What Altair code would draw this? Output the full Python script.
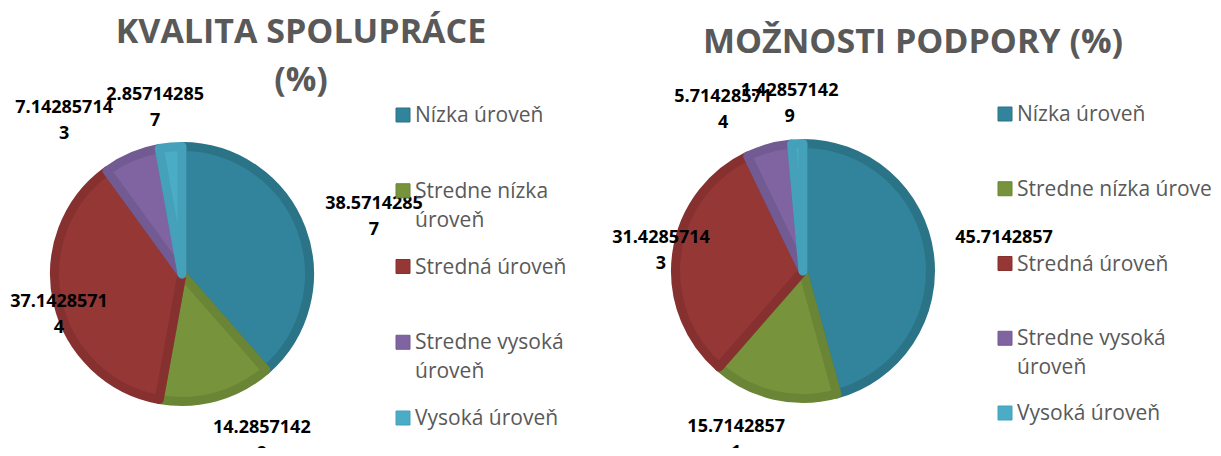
import altair as alt
import pandas as pd

# ---- data ----
categories = ["Nízka úroveň", "Stredne nízka úroveň", "Stredná úroveň",
              "Stredne vysoká úroveň", "Vysoká úroveň"]
kvalita_values = [38.57142857, 14.28571429, 37.14285714, 7.142857143, 2.857142857]
podpora_values = [45.71428571, 15.71428571, 31.42857143, 5.714285714, 1.428571429]
legend_lines_kvalita = ["Nízka úroveň", "Stredne nízka\núroveň", "Stredná úroveň",
                        "Stredne vysoká\núroveň", "Vysoká úroveň"]
legend_lines_podpora = ["Nízka úroveň", "Stredne nízka úroveň", "Stredná úroveň",
                        "Stredne vysoká\núroveň", "Vysoká úroveň"]
title_kvalita = "KVALITA SPOLUPRÁCE\n(%)"
title_podpora = "MOŽNOSTI PODPORY (%)"

fill_colors = ["#31849B", "#77933C", "#953735", "#8064A2", "#4BACC6"]
border_colors = ["#2B7386", "#6A8535", "#86302F", "#725A92", "#45A0B9"]

FONT = "Open Sans"
GREY = "#595959"


def wrap_label(v):
    s = str(v)
    return s[:10] + "\n" + s[10:]


def make_df(values, legend_lines):
    return pd.DataFrame({
        "category": categories,
        "value": values,
        "idx": list(range(len(categories))),
        "label": [wrap_label(v) for v in values],
        "legend": legend_lines,
    })


color_scale = alt.Scale(domain=categories, range=fill_colors)
stroke_scale = alt.Scale(domain=categories, range=border_colors)


def pie_layers(df, cx, cy, xmin, xmax, legend_x, legend_range, title, title_x, title_y):
    base = alt.Chart(df)
    theta = alt.Theta("value:Q", stack=True)
    order = alt.Order("idx:Q")
    arcs = base.mark_arc(radius=127.5, strokeWidth=9, strokeJoin="round").encode(
        theta=theta, order=order,
        color=alt.Color("category:N", scale=color_scale, legend=None),
        stroke=alt.Stroke("category:N", scale=stroke_scale, legend=None),
        x=alt.value(cx), y=alt.value(cy),
    )
    # data labels: placed outside the slice mid-angle, kept inside the plot area
    labels = base.transform_joinaggregate(
        total="sum(value)"
    ).transform_window(
        cum="sum(value)", sort=[alt.SortField("idx")]
    ).transform_calculate(
        ang="2 * PI * (datum.cum - datum.value / 2) / datum.total",
    ).transform_calculate(
        lx=f"clamp({cx} + 300 * sin(datum.ang), {xmin}, {xmax})",
        ly=f"{cy} - 170 * cos(datum.ang)",
    ).mark_text(
        font=FONT, fontSize=18, fontWeight="bold", color="black", dy=-10,
        lineBreak="\n", lineHeight=26, align="center", baseline="middle",
    ).encode(
        x=alt.X("lx:Q", scale=None, axis=None),
        y=alt.Y("ly:Q", scale=None, axis=None),
        text="label:N",
    )
    leg_y = alt.Y("category:N", sort=categories,
                  scale=alt.Scale(type="point", domain=categories,
                                  range=legend_range, padding=0),
                  axis=None)
    squares = base.mark_square(size=196, opacity=1, strokeWidth=1).encode(
        x=alt.value(legend_x), y=leg_y,
        color=alt.Color("category:N", scale=color_scale, legend=None),
        stroke=alt.Stroke("category:N", scale=stroke_scale, legend=None),
    )
    texts = base.mark_text(
        align="left", baseline="top", dy=-10, font=FONT, fontSize=21,
        color=GREY, lineBreak="\n", lineHeight=29,
    ).encode(x=alt.value(legend_x + 12), y=leg_y, text="legend:N")
    ttl = alt.Chart(pd.DataFrame({"title": [title]})).mark_text(
        align="center", baseline="top", font=FONT, fontSize=34,
        fontWeight="bold", color=GREY, lineBreak="\n", lineHeight=48,
    ).encode(x=alt.value(title_x), y=alt.value(title_y), text="title:N")
    return [arcs, labels, squares, texts, ttl]


df1 = make_df(kvalita_values, legend_lines_kvalita)
df2 = make_df(podpora_values, legend_lines_podpora)

layers = (pie_layers(df1, 174, 266, 51, 366, 395, [107, 410], title_kvalita, 293, 8)
          + pie_layers(df2, 795, 263, 653, 996, 997, [106, 405], title_podpora, 905, 18))

chart = alt.layer(*layers).resolve_scale(
    theta="independent", y="independent", x="independent"
).properties(
    width=1205, height=440,
    autosize=alt.AutoSizeParams(type="none"),
    padding=0,
).configure_view(stroke=None)

chart.save("out.html", embed_options={"renderer": "svg", "actions": False})
